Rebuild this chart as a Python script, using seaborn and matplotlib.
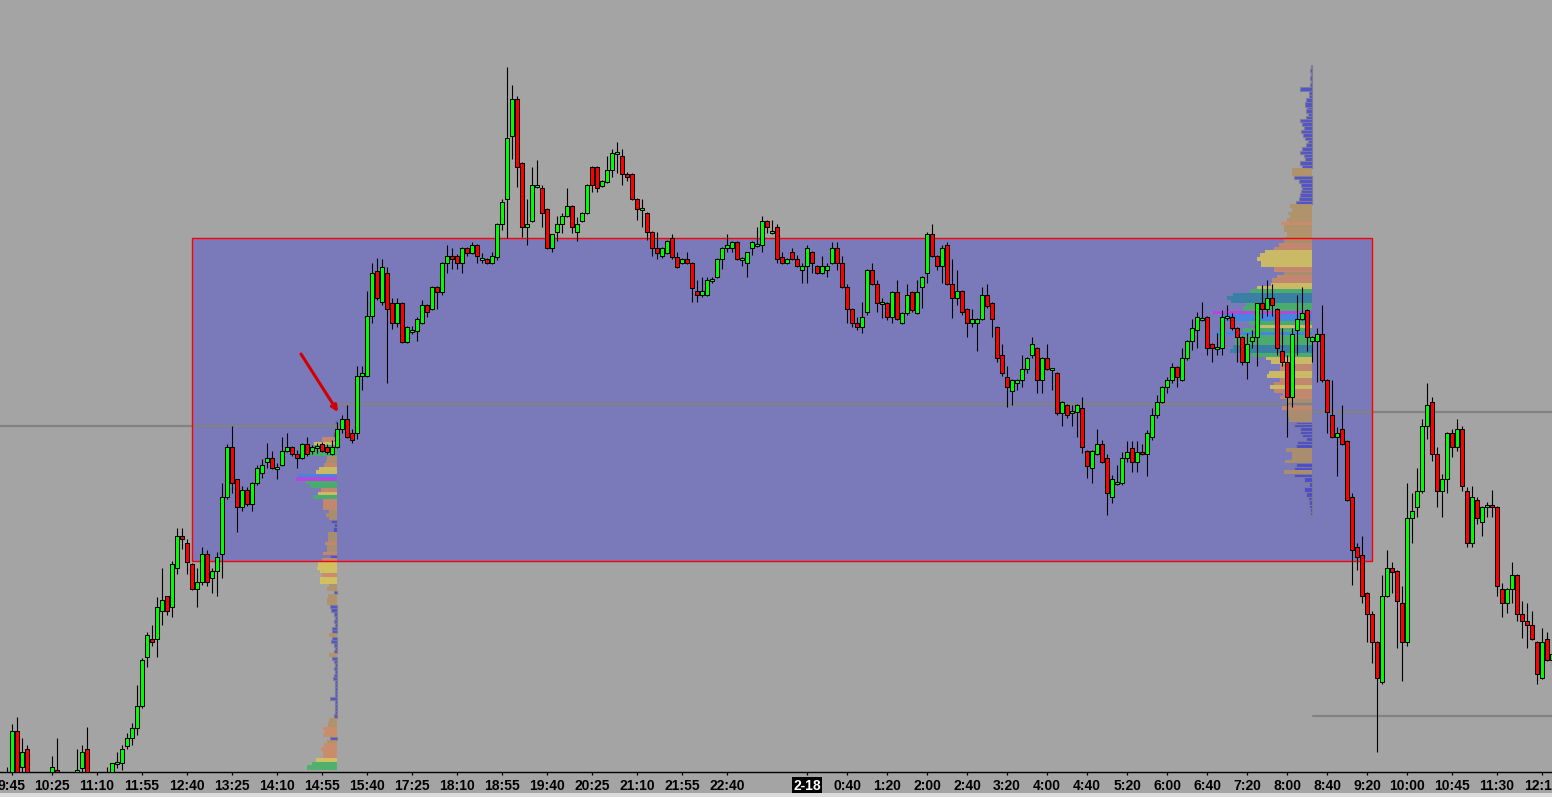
import matplotlib
matplotlib.use('Agg')

import matplotlib.patches as patches
import matplotlib.pyplot as plt
import numpy as np
import pandas as pd
import seaborn as sns


# 5 minute bars, one per slot (price in chart points)
bar_open = [
    10, 15, 20, 69, 33, 51, 22, 12, 15, 19,
    24, 30, 24, 16, 20, 22, 32, 51, 22, 14,
    18, 18, 24, 36, 37, 54, 62, 72, 94, 143,
    161, 161, 189, 204, 193, 232, 264, 257, 236, 211,
    218, 246, 222, 229, 246, 303, 353, 321, 293, 310,
    296, 317, 327, 338, 342, 331, 335, 349, 353, 346,
    342, 356, 349, 352, 356, 353, 346, 353, 371, 381,
    367, 367, 424, 424, 484, 529, 498, 527, 497, 477,
    497, 458, 468, 469, 477, 495, 491, 513, 508, 537,
    544, 544, 537, 552, 547, 555, 540, 541, 537, 543,
    576, 601, 664, 701, 637, 573, 579, 613, 612, 591,
    552, 568, 576, 584, 594, 568, 579, 587, 633, 633,
    614, 618, 630, 646, 644, 626, 626, 601, 590, 587,
    568, 552, 544, 547, 562, 543, 537, 541, 537, 509,
    505, 505, 519, 523, 541, 552, 552, 558, 540, 537,
    552, 554, 555, 579, 567, 573, 543, 537, 548, 541,
    530, 534, 548, 534, 527, 530, 537, 552, 537, 513,
    491, 477, 473, 488, 530, 516, 496, 497, 483, 508,
    477, 487, 508, 487, 513, 527, 566, 544, 534, 555,
    516, 502, 509, 491, 477, 477, 481, 505, 497, 473,
    445, 423, 409, 417, 420, 431, 445, 452, 420, 442,
    430, 427, 387, 395, 387, 388, 392, 349, 332, 346,
    356, 342, 303, 316, 317, 342, 352, 338, 348, 346,
    363, 385, 398, 413, 420, 433, 420, 442, 459, 470,
    480, 483, 456, 451, 452, 482, 483, 472, 463, 438,
    459, 463, 497, 491, 502, 491, 449, 438, 403, 470,
    481, 490, 459, 459, 466, 420, 385, 363, 371, 359,
    303, 253, 245, 207, 186, 158, 118, 204, 232, 229,
    197, 158, 282, 293, 309, 374, 398, 346, 309, 321,
    367, 353, 371, 309, 257, 300, 278, 293, 295, 293,
    211, 197, 211, 225, 186, 179, 175, 158, 122, 161, 140]

bar_high = [
    22, 33, 76, 83, 62, 55, 24, 20, 22, 21,
    44, 62, 26, 22, 26, 51, 55, 73, 24, 20,
    24, 33, 37, 48, 55, 67, 77, 115, 142, 168,
    175, 203, 232, 204, 239, 272, 272, 261, 237, 232,
    253, 250, 232, 248, 317, 356, 374, 321, 314, 313,
    318, 335, 341, 357, 349, 337, 363, 367, 354, 350,
    357, 363, 355, 357, 358, 356, 360, 378, 385, 395,
    371, 434, 434, 509, 537, 542, 541, 533, 502, 502,
    498, 474, 474, 483, 500, 496, 514, 514, 538, 555,
    552, 546, 553, 553, 558, 556, 547, 542, 548, 577,
    601, 733, 715, 704, 638, 601, 633, 640, 615, 592,
    566, 584, 587, 612, 595, 583, 588, 616, 634, 634,
    620, 644, 651, 658, 651, 628, 627, 602, 601, 588,
    569, 568, 553, 560, 566, 548, 542, 548, 538, 520,
    523, 523, 523, 542, 553, 566, 559, 559, 543, 548,
    559, 573, 584, 580, 580, 576, 548, 542, 552, 545,
    537, 555, 549, 535, 544, 537, 558, 558, 544, 516,
    492, 483, 498, 531, 537, 520, 502, 498, 509, 520,
    488, 516, 509, 520, 524, 568, 576, 545, 555, 558,
    541, 530, 510, 492, 491, 482, 513, 516, 498, 474,
    456, 434, 421, 421, 445, 443, 463, 453, 443, 456,
    432, 428, 399, 396, 395, 396, 403, 350, 350, 371,
    360, 346, 325, 335, 348, 359, 359, 359, 356, 370,
    392, 405, 414, 423, 437, 434, 452, 460, 481, 488,
    498, 484, 457, 467, 490, 495, 487, 473, 464, 467,
    470, 497, 515, 520, 516, 492, 472, 445, 472, 505,
    513, 491, 464, 472, 495, 421, 420, 373, 395, 360,
    307, 257, 264, 208, 189, 159, 225, 250, 238, 230,
    214, 317, 307, 332, 381, 417, 403, 353, 326, 368,
    371, 381, 374, 313, 314, 303, 294, 298, 310, 294,
    217, 212, 238, 226, 199, 197, 189, 159, 172, 168, 150]

bar_low = [
    5, 10, 15, 18, 26, 20, 10, 8, 10, 12,
    20, 20, 14, 12, 16, 18, 28, 18, 12, 10,
    15, 14, 20, 32, 30, 51, 55, 65, 92, 133,
    154, 143, 175, 185, 183, 226, 251, 226, 210, 193,
    215, 214, 207, 204, 222, 301, 307, 268, 289, 294,
    289, 315, 322, 332, 331, 321, 334, 348, 344, 332,
    341, 344, 346, 347, 348, 346, 345, 352, 367, 362,
    357, 361, 410, 423, 477, 500, 495, 417, 471, 473,
    457, 457, 466, 459, 476, 483, 490, 491, 505, 527,
    531, 531, 527, 544, 546, 537, 537, 536, 536, 540,
    570, 562, 641, 613, 563, 555, 578, 612, 573, 551,
    548, 559, 567, 583, 567, 559, 578, 586, 608, 608,
    613, 617, 623, 627, 615, 619, 600, 580, 573, 560,
    544, 541, 542, 546, 541, 532, 536, 536, 498, 498,
    503, 504, 517, 522, 531, 548, 548, 540, 534, 523,
    545, 553, 548, 567, 566, 537, 536, 536, 540, 533,
    517, 517, 527, 526, 526, 523, 536, 530, 512, 477,
    473, 470, 467, 485, 515, 488, 482, 480, 477, 480,
    476, 485, 488, 486, 492, 517, 543, 530, 517, 515,
    482, 495, 485, 463, 473, 449, 480, 492, 463, 438,
    424, 393, 395, 410, 413, 427, 442, 407, 407, 430,
    410, 385, 374, 382, 374, 363, 347, 322, 317, 345,
    337, 285, 297, 315, 315, 338, 328, 328, 345, 324,
    360, 382, 397, 407, 417, 413, 419, 440, 450, 452,
    479, 445, 438, 445, 445, 480, 470, 438, 435, 421,
    452, 434, 482, 484, 484, 445, 434, 363, 393, 445,
    480, 449, 438, 418, 418, 367, 362, 324, 355, 299,
    215, 230, 197, 158, 137, 48, 116, 203, 207, 152,
    119, 154, 257, 283, 307, 361, 339, 293, 283, 307,
    343, 349, 309, 253, 253, 276, 264, 283, 283, 204,
    183, 187, 197, 179, 162, 152, 160, 116, 121, 139, 135]

bar_close = [
    18, 25, 69, 22, 48, 24, 15, 17, 19, 14,
    33, 24, 16, 20, 24, 30, 48, 22, 14, 18,
    22, 24, 37, 38, 51, 62, 72, 94, 140, 165,
    158, 193, 200, 189, 236, 264, 261, 238, 211, 218,
    246, 218, 229, 243, 303, 353, 317, 293, 310, 296,
    317, 332, 335, 342, 332, 333, 349, 353, 346, 342,
    356, 346, 353, 354, 349, 348, 353, 371, 381, 363,
    360, 424, 427, 484, 527, 502, 533, 491, 477, 497,
    458, 473, 470, 481, 495, 488, 513, 508, 537, 544,
    541, 537, 552, 547, 555, 544, 542, 537, 544, 576,
    598, 662, 701, 633, 573, 576, 615, 615, 587, 552,
    566, 576, 584, 594, 573, 576, 587, 615, 615, 612,
    619, 630, 647, 648, 626, 623, 601, 591, 592, 568,
    552, 547, 552, 559, 543, 533, 541, 537, 512, 505,
    509, 520, 521, 541, 552, 555, 558, 541, 542, 548,
    558, 556, 579, 573, 569, 541, 537, 541, 541, 534,
    534, 552, 537, 527, 534, 534, 552, 537, 513, 491,
    477, 473, 483, 530, 516, 497, 498, 483, 508, 481,
    487, 505, 490, 508, 523, 566, 544, 534, 552, 516,
    502, 509, 488, 477, 481, 481, 505, 494, 481, 442,
    427, 413, 420, 420, 431, 442, 456, 420, 442, 431,
    432, 387, 398, 385, 389, 395, 353, 334, 349, 356,
    338, 307, 321, 318, 342, 348, 338, 348, 346, 367,
    385, 398, 413, 420, 433, 423, 442, 459, 472, 483,
    482, 452, 452, 453, 483, 484, 472, 463, 438, 456,
    463, 497, 491, 502, 495, 452, 438, 403, 466, 481,
    487, 463, 463, 466, 420, 388, 363, 367, 356, 300,
    250, 243, 204, 186, 158, 122, 204, 232, 228, 199,
    158, 282, 289, 309, 374, 395, 346, 309, 321, 367,
    353, 371, 314, 257, 303, 282, 293, 295, 293, 214,
    197, 211, 225, 186, 179, 175, 161, 126, 158, 140, 146]

tick_bars = [2, 10, 19, 28, 37, 46, 55, 64, 73, 82, 91, 100, 109, 118, 127,
             136, 145, 161, 169, 177, 185, 193, 201, 209, 217, 225, 233, 241,
             249, 257, 265, 273, 281, 290, 299, 308]
tick_labels = ['9:45', '10:25', '11:10', '11:55', '12:40', '13:25', '14:10',
               '14:55', '15:40', '17:25', '18:10', '18:55', '19:40', '20:25',
               '21:10', '21:55', '22:40', '2-18', '0:40', '1:20', '2:00',
               '2:40', '3:20', '4:00', '4:40', '5:20', '6:00', '6:40', '7:20',
               '8:00', '8:40', '9:20', '10:00', '10:45', '11:30', '12:15']

# first session volume profile (price row edges, volume per row)
profile1_edges = [
    380, 376, 372, 368, 363, 358, 355, 351, 348, 344, 340, 337, 333, 330,
    326, 323, 319, 316, 312, 308, 305, 301, 297, 290, 287, 283, 280, 277,
    273, 268, 263, 258, 255, 248, 245, 242, 238, 233, 230, 227, 223, 216,
    213, 209, 206, 202, 195, 192, 188, 184, 180, 177, 173, 170, 167, 163,
    160, 157, 153, 150, 147, 143, 140, 137, 133, 130, 126, 123, 120, 116,
    113, 109, 106, 103, 100, 96, 93, 89, 86, 82, 78, 73, 70, 67, 63, 60,
    57, 53, 49, 45, 42, 38, 35, 30]
profile1_volume = [
    2, 1, 2, 4, 15, 23, 25, 28, 31, 10,
    11, 13, 18, 21, 39, 41, 31, 27, 16, 19,
    24, 14, 14, 8, 11, 8, 6, 3, 4, 9,
    9, 12, 10, 14, 7, 15, 19, 20, 17, 15,
    17, 8, 10, 3, 9, 10, 7, 6, 3, 2,
    3, 2, 5, 5, 8, 5, 6, 3, 2, 3,
    8, 5, 3, 2, 3, 2, 3, 4, 2, 2,
    2, 2, 2, 7, 2, 2, 2, 2, 3, 8,
    9, 14, 12, 14, 7, 10, 13, 16, 14, 14,
    21, 25, 30]

# overnight session volume profile
profile2_edges = [
    735, 731, 728, 724, 720, 717, 713, 709, 705, 702, 698, 693, 691, 687,
    684, 681, 678, 674, 670, 667, 663, 660, 657, 653, 649, 646, 643, 639,
    635, 632, 624, 621, 617, 613, 610, 607, 603, 599, 596, 592, 588, 585,
    582, 578, 575, 572, 568, 563, 560, 557, 553, 550, 547, 543, 539, 533,
    528, 525, 522, 517, 514, 511, 507, 504, 500, 497, 493, 489, 486, 479,
    475, 472, 468, 465, 455, 451, 447, 443, 440, 436, 429, 426, 422, 418,
    415, 411, 407, 404, 401, 397, 394, 390, 387, 383, 378, 376, 373, 369,
    366, 363, 359, 356, 352, 348, 340, 337, 333, 330, 326, 323, 318, 313,
    308, 303, 300, 295, 292, 288, 285]
profile2_volume = [
    1, 2, 1, 2, 1, 2, 12, 3, 3, 6,
    7, 5, 6, 4, 6, 12, 10, 8, 11, 9,
    7, 4, 6, 10, 12, 8, 7, 12, 10, 20,
    18, 13, 11, 10, 11, 12, 13, 16, 22, 20,
    24, 22, 25, 31, 28, 28, 25, 28, 28, 33,
    38, 47, 52, 55, 51, 38, 28, 35, 40, 41,
    55, 62, 79, 85, 81, 66, 69, 99, 91, 63,
    56, 69, 97, 77, 79, 82, 60, 46, 41, 32,
    43, 45, 32, 38, 42, 38, 29, 32, 26, 24,
    30, 25, 25, 23, 16, 18, 12, 12, 10, 6,
    15, 16, 26, 20, 27, 16, 18, 28, 18, 8,
    3, 8, 6, 4, 3, 3, 2, 2]

# value area box and reference levels
box_bars = (38, 274)
box_prices = (239, 562)
levels = [
    (374, -0.4, 67.0),
    (396, 67.4, 262.0),
    (388, 262.2, 310.0),
    (84, 262.2, 310.0),
]

BG = '#A4A4A4'
VOL_SCALE = 0.2
PROFILE_COLORS = ['#4646D0', '#B39162', '#D08A62', '#D9C656',
                  '#42B462', '#2F82A2', '#3C88E6', '#C23EE0']
PROFILE_BINS = [0.19, 0.29, 0.405, 0.58, 0.79, 0.88, 0.99]


def draw_profile(ax, edges, volume, right):
    edges = np.asarray(edges, dtype=float)
    volume = np.asarray(volume, dtype=float)
    ratio = volume / volume.max()
    color_idx = np.digitize(ratio, PROFILE_BINS)
    widths = volume * VOL_SCALE
    for hi, lo, w, ci in zip(edges[:-1], edges[1:], widths, color_idx):
        small = ci == 0
        ax.barh(lo, w, height=hi - lo, left=right - w, align='edge',
                color=PROFILE_COLORS[ci], alpha=0.85,
                edgecolor='#7C7C96' if small else 'none',
                linewidth=0.8 if small else 0, zorder=3)


def main():
    sns.set_theme(style='white', rc={
        'axes.facecolor': BG,
        'figure.facecolor': BG,
    })
    plt.rcParams['font.family'] = ['Liberation Sans', 'DejaVu Sans']

    bars = pd.DataFrame({'open': bar_open, 'high': bar_high,
                         'low': bar_low, 'close': bar_close})
    bars['slot'] = np.arange(len(bars))
    up = bars['close'] >= bars['open']

    fig = plt.figure(figsize=(15.52, 7.97), dpi=100)
    ax = fig.add_axes([0, 25 / 797, 1, 772 / 797])

    # value area box
    ax.add_patch(patches.Rectangle(
        (box_bars[0], box_prices[0]), box_bars[1] - box_bars[0],
        box_prices[1] - box_prices[0],
        facecolor=(0, 0, 1, 0.25), edgecolor='none', zorder=1))

    draw_profile(ax, profile1_edges, profile1_volume, 67.0)
    draw_profile(ax, profile2_edges, profile2_volume, 262.0)

    for price, x0, x1 in levels:
        sns.lineplot(x=[x0, x1], y=[price, price], ax=ax, color='#828282',
                     linewidth=1.6, zorder=4)

    ax.add_patch(patches.Rectangle(
        (box_bars[0], box_prices[0]), box_bars[1] - box_bars[0],
        box_prices[1] - box_prices[0],
        facecolor='none', edgecolor='#FF0000', linewidth=1.0, zorder=5))

    # candles
    ax.vlines(bars['slot'], bars['low'], bars['high'], color='black',
              linewidth=0.8, zorder=6)
    ax.bar(bars['slot'], (bars['close'] - bars['open']).abs(),
           bottom=bars[['open', 'close']].min(axis=1), width=0.7,
           color=np.where(up, '#00FF00', '#FF0000'), edgecolor='black',
           linewidth=0.75, zorder=7)

    ax.annotate('', xy=(67.2, 388), xytext=(59.8, 446),
                arrowprops=dict(arrowstyle='-|>', color='#D00000', lw=2.2,
                                mutation_scale=9, shrinkA=0, shrinkB=0),
                zorder=8)

    ax.set_xlim(-0.4, 310.0)
    ax.set_ylim(28, 800)
    ax.set_yticks([])
    ax.set_xticks(tick_bars)
    ax.set_xticklabels(tick_labels, fontsize=10, fontweight='bold',
                       color='black')
    ax.tick_params(axis='x', direction='out', length=2.5, width=0.9,
                   color='black', pad=2.2, bottom=True)
    for side in ['top', 'left', 'right']:
        ax.spines[side].set_visible(False)
    ax.spines['bottom'].set_color('black')
    ax.spines['bottom'].set_linewidth(1.0)
    ax.set_xlabel('')
    ax.set_ylabel('')

    date_label = ax.get_xticklabels()[tick_labels.index('2-18')]
    date_label.set_color('white')
    date_label.set_bbox(dict(facecolor='black', edgecolor='none', pad=1.2))

    # scrollbar strip at the bottom edge
    fig.patches.append(patches.Rectangle(
        (0, 0), 1, 4 / 797, transform=fig.transFigure,
        facecolor='#DCDCDC', edgecolor='none'))

    fig.savefig('out.png', dpi=100, facecolor=BG)
    plt.close(fig)


if __name__ == '__main__':
    main()
